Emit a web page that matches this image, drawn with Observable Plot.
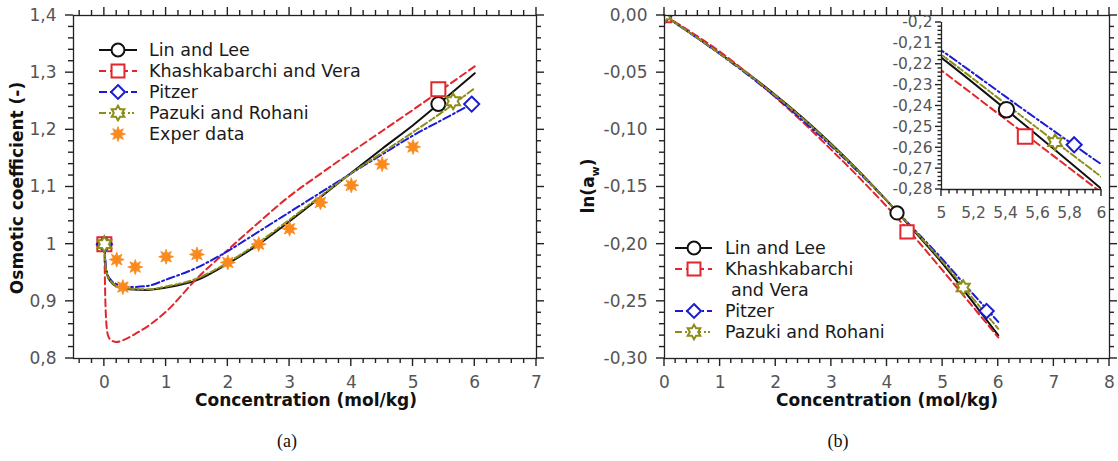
<!DOCTYPE html>
<html><head><meta charset="utf-8">
<script src="https://cdn.jsdelivr.net/npm/d3@7"></script>
<script src="https://cdn.jsdelivr.net/npm/@observablehq/plot@0.6"></script>
<style>
body{margin:0;background:#fff;}
#root{position:relative;width:1118px;height:461px;overflow:hidden;font-family:"DejaVu Sans",sans-serif;background:#fff;}
.t{position:absolute;white-space:nowrap;transform:translate(-50%,-50%);}
.ttl{font-weight:bold;font-size:17px;color:#111;}
.cap{font-family:"Liberation Serif",serif;font-size:18px;color:#111;}
</style></head><body><div id="root"></div>
<script>
// ---------- Panel (a): osmotic coefficient ----------
const concA    = [0, 0.02, 0.05, 0.1, 0.2, 0.4, 0.7, 1, 1.5, 2, 2.5, 3, 3.5, 4, 4.5, 5, 5.5, 6];
const linLeeA  = [1.0, 0.96, 0.945, 0.935, 0.926, 0.921, 0.92, 0.924, 0.937, 0.966, 1.0, 1.04, 1.082, 1.125, 1.167, 1.208, 1.253, 1.299];
const pitzerA  = [1.0, 0.965, 0.948, 0.938, 0.93, 0.925, 0.927, 0.938, 0.959, 0.988, 1.022, 1.056, 1.09, 1.124, 1.157, 1.19, 1.219, 1.248];
const pazukiA  = [1.0, 0.962, 0.946, 0.936, 0.927, 0.922, 0.921, 0.926, 0.94, 0.968, 1.003, 1.043, 1.084, 1.124, 1.16, 1.196, 1.233, 1.273];
const concKVA  = [0, 0.01, 0.03, 0.06, 0.12, 0.2, 0.3, 0.5, 0.75, 1, 1.5, 2, 2.5, 3, 3.5, 4, 4.5, 5, 5.5, 6];
const khashA   = [1.0, 0.93, 0.865, 0.84, 0.831, 0.829, 0.832, 0.843, 0.86, 0.882, 0.94, 0.99, 1.038, 1.084, 1.123, 1.161, 1.198, 1.235, 1.273, 1.311];
const expConc  = [0.2, 0.3, 0.5, 1, 1.5, 2, 2.5, 3, 3.5, 4, 4.5, 5];
const expPhi   = [0.973, 0.925, 0.96, 0.978, 0.982, 0.968, 1.0, 1.027, 1.073, 1.103, 1.14, 1.17];
// marker positions (a)
const linLeeMarkAx = [0, 5.41], linLeeMarkAy = [1.0, 1.245];
const khashMarkAx  = [0, 5.41], khashMarkAy  = [1.0, 1.271];
const pitzerMarkAx = [0, 5.95], pitzerMarkAy = [1.0, 1.245];
const pazukiMarkAx = [0, 5.65], pazukiMarkAy = [1.0, 1.25];
// ticks (a)
const xTicksA = [0, 1, 2, 3, 4, 5, 6, 7];
const xLabelsA = ["0", "1", "2", "3", "4", "5", "6", "7"];
const yTicksA = [0.8, 0.9, 1, 1.1, 1.2, 1.3, 1.4];
const yLabelsA = ["0,8", "0,9", "1", "1,1", "1,2", "1,3", "1,4"];

// ---------- Panel (b): ln(aw) ----------
const concB    = [0, 0.25, 0.5, 1, 1.5, 2, 2.5, 3, 3.5, 4, 4.5, 5, 5.5, 6];
const linLeeB  = [0, -0.0083, -0.0166, -0.0334, -0.0507, -0.0697, -0.0901, -0.1124, -0.1364, -0.1621, -0.1892, -0.2169, -0.2478, -0.2797];
const khashB   = [0, -0.0075, -0.0152, -0.0318, -0.0508, -0.0718, -0.0939, -0.1175, -0.1418, -0.1673, -0.1942, -0.2230, -0.2522, -0.2815];
const pitzerB  = [0, -0.0084, -0.0167, -0.0339, -0.0519, -0.0713, -0.0923, -0.1143, -0.1377, -0.1621, -0.1877, -0.2134, -0.2410, -0.2680];
const pazukiB  = [0, -0.0083, -0.0166, -0.0336, -0.0511, -0.0703, -0.0907, -0.1130, -0.1368, -0.1621, -0.1884, -0.2155, -0.2448, -0.2740];
const linLeeMarkBx = [0, 4.18],  linLeeMarkBy = [0, -0.1727];
const khashMarkBx  = [0, 4.36],  khashMarkBy  = [0, -0.1893];
const pitzerMarkBx = [0, 5.79],  pitzerMarkBy = [0, -0.2585];
const pazukiMarkBx = [0, 5.37],  pazukiMarkBy = [0, -0.238];
const xTicksB = [0, 1, 2, 3, 4, 5, 6, 7, 8];
const xLabelsB = ["0", "1", "2", "3", "4", "5", "6", "7", "8"];
const yTicksB = [-0.3, -0.25, -0.2, -0.15, -0.1, -0.05, 0];
const yLabelsB = ["-0,30", "-0,25", "-0,20", "-0,15", "-0,10", "-0,05", "0,00"];
// inset
const linLeeMarkIx = [5.406], linLeeMarkIy = [-0.2418];
const khashMarkIx  = [5.523], khashMarkIy  = [-0.2546];
const pitzerMarkIx = [5.829], pitzerMarkIy = [-0.2586];
const pazukiMarkIx = [5.71],  pazukiMarkIy = [-0.2573];
const xTicksI = [5, 5.2, 5.4, 5.6, 5.8, 6];
const xLabelsI = ["5", "5,2", "5,4", "5,6", "5,8", "6"];
const yTicksI = [-0.28, -0.27, -0.26, -0.25, -0.24, -0.23, -0.22, -0.21, -0.2];
const yLabelsI = ["-0,28", "-0,27", "-0,26", "-0,25", "-0,24", "-0,23", "-0,22", "-0,21", "-0,2"];

const seriesNames = ["Lin and Lee", "Khashkabarchi and Vera", "Pitzer", "Pazuki and Rohani", "Exper data"];

// ---------- helpers ----------
const rows = (xs, ys) => xs.map((x, i) => ({x, y: ys[i]}));
const hexagram = {draw(ctx, size) {
  const R = Math.sqrt(size / Math.PI) * 1.05, r = R / Math.sqrt(3);
  for (let i = 0; i < 12; i++) {
    const a = Math.PI / 6 * i - Math.PI / 2, rr = i % 2 ? r : R;
    const x = rr * Math.cos(a), y = rr * Math.sin(a);
    i ? ctx.lineTo(x, y) : ctx.moveTo(x, y);
  }
  ctx.closePath();
}};
const splat = {draw(ctx, size) {
  const R = Math.sqrt(size / Math.PI), n = 8;
  for (let i = 0; i < 2 * n; i++) {
    const a = Math.PI * i / n - Math.PI / 2, rr = i % 2 ? R * 0.5 : R;
    const x = rr * Math.cos(a), y = rr * Math.sin(a);
    i ? ctx.lineTo(x, y) : ctx.moveTo(x, y);
  }
  ctx.closePath();
}};
const STY = [
  {color: "#111111", dash: null, symbol: "circle", r: 7},
  {color: "#e2262c", dash: "7,4", symbol: "square", r: 7.9},
  {color: "#1b1bd6", dash: "8,3,2,3", symbol: "diamond2", r: 6.8},
  {color: "#8d8d1a", dash: "7,3,2,2,2,3", symbol: hexagram, r: 7.5}
];
const EXP = {color: "#fa8a1e", r: 7.5};
const TICK = "#222222";
const LAB = "#555";
const isMajor = (v, step) => Math.abs(v / step - Math.round(v / step)) < 1e-6;

// tick marks positioned through the plot's own x / y scales
function drawTicks(svg, specs) {
  const sx = svg.scale("x"), sy = svg.scale("y");
  const [xl, xr] = d3.extent(sx.range), [yt, yb] = d3.extent(sy.range);
  const g = d3.select(svg).append("g");
  for (const {vals, side, len} of specs) {
    for (const v of vals) {
      let x1, x2, y1, y2;
      if (side === "bottom") { x1 = x2 = sx.apply(v); y1 = yb; y2 = yb + len; }
      else if (side === "top") { x1 = x2 = sx.apply(v); y1 = yt; y2 = yt - len; }
      else if (side === "left") { y1 = y2 = sy.apply(v); x1 = xl; x2 = xl - len; }
      else { y1 = y2 = sy.apply(v); x1 = xr; x2 = xr + len; }
      g.append("line").attr("x1", x1).attr("x2", x2).attr("y1", y1).attr("y2", y2)
        .style("stroke", TICK).style("stroke-width", "1.4px");
    }
  }
}
function allSides(xMaj, xMin, yMaj, yMin) {
  const s = [];
  for (const side of ["bottom", "top"]) { s.push({vals: xMaj, side, len: 8}); s.push({vals: xMin, side, len: 5}); }
  for (const side of ["left", "right"]) { s.push({vals: yMaj, side, len: 8}); s.push({vals: yMin, side, len: 5}); }
  return s;
}
function tickLabels(xMaj, xLab, yMaj, yLab, fs, padX, padY) {
  const xm = new Map(xMaj.map((v, i) => [v, xLab[i]]));
  const ym = new Map(yMaj.map((v, i) => [v, yLab[i]]));
  return [
    Plot.axisX(xMaj, {anchor: "bottom", tickSize: 0, tickPadding: padX, tickFormat: d => xm.get(d), fill: LAB, fontSize: fs, label: null}),
    Plot.axisY(yMaj, {anchor: "left", tickSize: 0, tickPadding: padY, tickFormat: d => ym.get(d), fill: LAB, fontSize: fs, label: null})
  ];
}
function curve(xs, ys, s, clip) {
  return Plot.line(rows(xs, ys), {x: "x", y: "y", stroke: s.color, strokeWidth: 2, strokeDasharray: s.dash, curve: "monotone-x", clip});
}
function marks(xs, ys, s, scale = 1, clip = false) {
  return Plot.dot(rows(xs, ys), {x: "x", y: "y", symbol: s.symbol, r: s.r * scale, stroke: s.color, fill: "white", strokeWidth: 2, clip});
}
const root = document.getElementById("root");
function place(node, left, top) {
  node.style.position = "absolute"; node.style.left = left + "px"; node.style.top = top + "px";
  root.appendChild(node);
}
const baseStyle = {fontFamily: "'DejaVu Sans', sans-serif", background: "transparent", color: "#333", overflow: "visible"};

// ---------- Plot (a) ----------
const xMinA = d3.range(-0.4, 7.0001, 0.2).filter(v => !isMajor(v, 1));
const yMinA = d3.range(0.8, 1.4001, 0.02).filter(v => !isMajor(v, 0.1));
const plotA = Plot.plot({
  width: 560, height: 420, marginLeft: 73, marginRight: 24, marginTop: 15, marginBottom: 62,
  x: {domain: [-0.5, 7]}, y: {domain: [0.8, 1.4]},
  style: baseStyle,
  marks: [
    ...tickLabels(xTicksA, xLabelsA, yTicksA, yLabelsA, 17, 17.5, 17),
    curve(concA, linLeeA, STY[0]),
    curve(concKVA, khashA, STY[1]),
    curve(concA, pitzerA, STY[2]),
    curve(concA, pazukiA, STY[3]),
    Plot.dot(rows(expConc, expPhi), {x: "x", y: "y", symbol: splat, r: EXP.r, fill: EXP.color, stroke: EXP.color, strokeWidth: 0.8}),
    marks(linLeeMarkAx, linLeeMarkAy, STY[0]),
    marks(khashMarkAx, khashMarkAy, STY[1]),
    marks(pitzerMarkAx, pitzerMarkAy, STY[2]),
    marks(pazukiMarkAx, pazukiMarkAy, STY[3]),
    Plot.frame({stroke: "#222", strokeWidth: 1.3})
  ]
});
drawTicks(plotA, allSides(xTicksA, xMinA, yTicksA, yMinA));
place(plotA, 0, 0);

// ---------- Plot (b) ----------
const xMinB = d3.range(0, 8.0001, 0.2).filter(v => !isMajor(v, 1));
const yMinB = d3.range(-0.3, 0.0001, 0.01).filter(v => !isMajor(v, 0.05));
const plotB = Plot.plot({
  width: 558, height: 420, marginLeft: 104, marginRight: 9, marginTop: 15, marginBottom: 62,
  x: {domain: [0, 8]}, y: {domain: [-0.3, 0]},
  style: baseStyle,
  marks: [
    ...tickLabels(xTicksB, xLabelsB, yTicksB, yLabelsB, 17, 17.5, 17),
    curve(concB, linLeeB, STY[0]),
    curve(concB, khashB, STY[1]),
    curve(concB, pitzerB, STY[2]),
    curve(concB, pazukiB, STY[3]),
    marks(linLeeMarkBx, linLeeMarkBy, STY[0], 0.95, true),
    marks(khashMarkBx, khashMarkBy, STY[1], 0.95, true),
    marks(pitzerMarkBx, pitzerMarkBy, STY[2], 0.95, true),
    marks(pazukiMarkBx, pazukiMarkBy, STY[3], 0.95, true),
    Plot.frame({stroke: "#222", strokeWidth: 1.3})
  ]
});
drawTicks(plotB, allSides(xTicksB, xMinB, yTicksB, yMinB));
place(plotB, 560, 0);

// ---------- Inset ----------
const xMinI = d3.range(5, 6.0001, 0.05).filter(v => !isMajor(v, 0.2));
const yMinI = d3.range(-0.28, -0.1999, 0.002).filter(v => !isMajor(v, 0.01));
const inset = Plot.plot({
  width: 250, height: 230, marginLeft: 81, marginRight: 9, marginTop: 22, marginBottom: 41,
  x: {domain: [5, 6]}, y: {domain: [-0.28, -0.2]},
  style: baseStyle,
  marks: [
    ...tickLabels(xTicksI, xLabelsI, yTicksI, yLabelsI, 15.5, 17, 9),
    curve(concB, linLeeB, STY[0], true),
    curve(concB, khashB, STY[1], true),
    curve(concB, pitzerB, STY[2], true),
    curve(concB, pazukiB, STY[3], true),
    marks(linLeeMarkIx, linLeeMarkIy, STY[0], 1.1),
    marks(khashMarkIx, khashMarkIy, STY[1], 1.05),
    marks(pitzerMarkIx, pitzerMarkIy, STY[2], 1.0),
    marks(pazukiMarkIx, pazukiMarkIy, STY[3], 1.0),
    Plot.ruleX([5], {stroke: "#222", strokeWidth: 1.3}),
    Plot.ruleY([-0.28], {stroke: "#222", strokeWidth: 1.3})
  ]
});
drawTicks(inset, [
  {vals: xTicksI, side: "bottom", len: 7}, {vals: xMinI, side: "bottom", len: 4.5},
  {vals: yTicksI, side: "left", len: 6}, {vals: yMinI, side: "left", len: 3.5}
]);
place(inset, 860, 0);

// ---------- Titles & captions ----------
function addText(html, cls, x, y, rot) {
  const d = document.createElement("div");
  d.className = "t " + cls;
  d.innerHTML = html;
  d.style.left = x + "px"; d.style.top = y + "px";
  if (rot) d.style.transform = "translate(-50%,-50%) rotate(-90deg)";
  root.appendChild(d);
}
addText("Concentration (mol/kg)", "ttl", 306, 400);
addText("Osmotic coefficient (-)", "ttl", 17, 188, true);
addText("Concentration (mol/kg)", "ttl", 887, 400);
addText("ln(a<sub style='font-size:11px'>w</sub>)", "ttl", 590, 186, true);
addText("(a)", "cap", 287, 441);
addText("(b)", "cap", 838, 441);

// ---------- Legends ----------
const leg = d3.select(root).append("svg").attr("width", 1118).attr("height", 461)
  .style("position", "absolute").style("left", "0px").style("top", "0px");
const symType = s => s === "circle" ? d3.symbolCircle : s === "square" ? d3.symbolSquare : s === "diamond2" ? d3.symbolDiamond2 : s;
function legendRow(x1, x2, xm, xt, y, s, label) {
  const g = leg.append("g");
  if (s) {
    g.append("line").attr("x1", x1).attr("x2", x2).attr("y1", y).attr("y2", y)
      .attr("stroke", s.color).attr("stroke-width", 2).attr("stroke-dasharray", s.dash);
    g.append("path").attr("d", d3.symbol(symType(s.symbol), Math.PI * s.r * s.r * 0.85)())
      .attr("transform", `translate(${xm},${y})`).attr("fill", "white").attr("stroke", s.color).attr("stroke-width", 2);
  }
  if (label !== null) {
    g.append("text").attr("x", xt).attr("y", y).attr("dy", "0.36em").attr("fill", "#1a1a1a")
      .style("font-family", "'DejaVu Sans', sans-serif").style("font-size", "17.5px").text(label);
  }
  return g;
}
// legend (a)
const rowsA = [50, 71, 92, 113, 134];
for (let i = 0; i < 4; i++) legendRow(99, 137, 118, 149, rowsA[i], STY[i], seriesNames[i]);
const ge = legendRow(99, 137, 118, 149, rowsA[4], null, seriesNames[4]);
ge.append("path").attr("d", d3.symbol(splat, Math.PI * EXP.r * EXP.r)()).attr("transform", `translate(118,${rowsA[4]})`)
  .attr("fill", EXP.color).attr("stroke", EXP.color).attr("stroke-width", 0.8);
// legend (b)
legendRow(675, 712, 694, 725, 248, STY[0], seriesNames[0]);
legendRow(675, 712, 694, 725, 269, STY[1], "Khashkabarchi");
legendRow(675, 712, 694, 731, 290, null, "and Vera");
legendRow(675, 712, 694, 725, 311, STY[2], seriesNames[2]);
legendRow(675, 712, 694, 725, 332, STY[3], seriesNames[3]);
</script></body></html>
